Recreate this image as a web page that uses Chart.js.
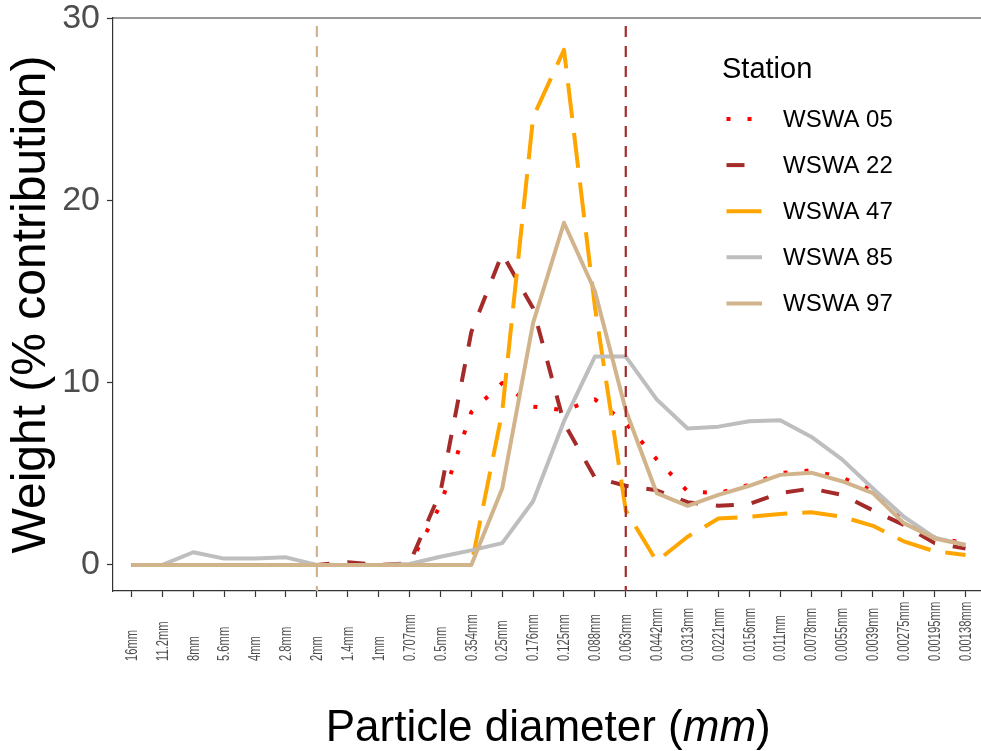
<!DOCTYPE html>
<html>
<head>
<meta charset="utf-8">
<script src="https://cdn.jsdelivr.net/npm/chart.js@4.4.0/dist/chart.umd.min.js"></script>
<style>
  body { margin: 0; background: #ffffff; }
  canvas { display: block; }
</style>
</head>
<body>
<canvas id="canvasGrafico" width="981" height="751"></canvas>
<script>
// categorias del eje x (diametro de particula)
const diametros = ['16mm', '11.2mm', '8mm', '5.6mm', '4mm', '2.8mm', '2mm', '1.4mm', '1mm',
    '0.707mm', '0.5mm', '0.354mm', '0.25mm', '0.176mm', '0.125mm', '0.088mm', '0.063mm',
    '0.0442mm', '0.0313mm', '0.0221mm', '0.0156mm', '0.011mm', '0.0078mm', '0.0055mm',
    '0.0039mm', '0.00275mm', '0.00195mm', '0.00138mm'];

const estaciones = ['WSWA 05', 'WSWA 22', 'WSWA 47', 'WSWA 85', 'WSWA 97'];

const wswa05 = [0, 0, 0, 0, 0, 0, 0, 0, 0, 0, 3.3, 8.4, 10.0, 8.7, 8.5, 9.1, 7.8,
    5.8, 4.05, 3.95, 4.4, 5.05, 5.2, 4.8, 4.1, 2.5, 1.5, 1.2];
const wswa22 = [0, 0, 0, 0, 0, 0, 0, 0.15, 0, 0.1, 4.0, 12.8, 17.1, 14.1, 7.8, 4.8, 4.35,
    4.1, 3.45, 3.25, 3.35, 3.95, 4.2, 3.85, 3.0, 2.2, 1.2, 0.9];
const wswa47 = [0, 0, 0, 0, 0, 0, 0, 0, 0, 0, 0, 0, 8.4, 24.6, 28.3, 14.2, 3.0,
    0.2, 1.55, 2.55, 2.65, 2.8, 2.9, 2.65, 2.15, 1.3, 0.75, 0.55];
const wswa85 = [0, 0, 0.7, 0.35, 0.35, 0.42, 0, 0, 0, 0.05, 0.45, 0.8, 1.2, 3.5, 7.9, 11.45, 11.45,
    9.1, 7.5, 7.6, 7.9, 7.95, 7.05, 5.8, 4.2, 2.65, 1.5, 1.1];
const wswa97 = [0, 0, 0, 0, 0, 0, 0, 0, 0, 0, 0, 0, 4.2, 13.3, 18.8, 15.05, 8.5,
    3.95, 3.25, 3.85, 4.35, 4.95, 5.07, 4.6, 3.95, 2.3, 1.45, 1.1];

const series = [wswa05, wswa22, wswa47, wswa85, wswa97];
const marcasY = [0, 10, 20, 30];

// lineas verticales de referencia
const lineasReferencia = ['2mm', '0.063mm'];
const coloresReferencia = ['#D2B48C', '#A52A2A'];

const colores = ['#FF0000', '#A52A2A', '#FFA500', '#BEBEBE', '#D2B48C'];
const guiones = [[4, 17], [18, 18], [35, 15], [], []];

const fuente = '"Liberation Sans", Arial, sans-serif';

const extras = {
    id: 'extras',
    afterDatasetsDraw(chart) {
        const ctx = chart.ctx;
        const area = chart.chartArea;
        const xs = chart.scales.x;

        // lineas de referencia
        ctx.save();
        ctx.lineWidth = 2.2;
        ctx.setLineDash([11, 9]);
        lineasReferencia.forEach((etiqueta, k) => {
            const px = xs.getPixelForValue(diametros.indexOf(etiqueta));
            ctx.strokeStyle = coloresReferencia[k];
            ctx.beginPath();
            ctx.moveTo(px, area.top + 8);
            ctx.lineTo(px, area.bottom);
            ctx.stroke();
        });
        ctx.restore();

        // borde superior del panel
        ctx.save();
        ctx.strokeStyle = '#333333';
        ctx.lineWidth = 1.2;
        ctx.beginPath();
        ctx.moveTo(area.left, area.top);
        ctx.lineTo(chart.width, area.top);
        ctx.stroke();
        ctx.restore();

        // leyenda
        ctx.save();
        ctx.fillStyle = '#000000';
        ctx.textBaseline = 'middle';
        ctx.textAlign = 'left';
        ctx.font = '29px ' + fuente;
        ctx.fillText('Station', 722, 70);
        ctx.font = '24px ' + fuente;
        chart.data.datasets.forEach((ds, i) => {
            const y = 119 + i * 46.1;
            ctx.strokeStyle = ds.borderColor;
            ctx.lineWidth = 4;
            ctx.lineCap = 'butt';
            ctx.setLineDash(ds.borderDash);
            ctx.beginPath();
            ctx.moveTo(726.5, y);
            ctx.lineTo(762, y);
            ctx.stroke();
            ctx.setLineDash([]);
            ctx.fillText(ds.label, 783, y + 1);
        });
        ctx.restore();
    },
    afterDraw(chart) {
        const ctx = chart.ctx;
        const area = chart.chartArea;
        const xs = chart.scales.x;

        // etiquetas del eje x, giradas, algo estrechas y alineadas abajo
        ctx.save();
        ctx.fillStyle = '#4D4D4D';
        ctx.font = '17px ' + fuente;
        diametros.forEach((d, i) => {
            const px = xs.getPixelForValue(i);
            ctx.save();
            ctx.translate(px + 0.5, 661);
            ctx.rotate(-Math.PI / 2);
            ctx.scale(0.66, 1);
            ctx.textAlign = 'left';
            ctx.textBaseline = 'middle';
            ctx.fillText(d, 0, 0);
            ctx.restore();
        });
        ctx.restore();

        // titulo del eje x con "mm" en cursiva
        ctx.save();
        ctx.fillStyle = '#000000';
        ctx.textBaseline = 'alphabetic';
        const normal = '44px ' + fuente;
        const cursiva = 'italic 44px ' + fuente;
        const partes = [['Particle diameter (', normal], ['mm', cursiva], [')', normal]];
        let total = 0;
        partes.forEach(p => { ctx.font = p[1]; total += ctx.measureText(p[0]).width; });
        let x = (area.left + area.right + 2.5) / 2 - total / 2;
        partes.forEach(p => {
            ctx.font = p[1];
            ctx.fillText(p[0], x, 741);
            x += ctx.measureText(p[0]).width;
        });
        ctx.restore();
    }
};

function inicializarGrafico() {
    const ctx = document.getElementById('canvasGrafico').getContext('2d');

    new Chart(ctx, {
        type: 'line',
        data: {
            datasets: estaciones.map((nombre, i) => ({
                label: nombre,
                data: series[i].map((v, k) => ({ x: k, y: v })),
                borderColor: colores[i],
                borderDash: guiones[i],
                borderWidth: 4,
                borderCapStyle: 'butt',
                borderJoinStyle: 'round',
                pointRadius: 0,
                fill: false,
                tension: 0,
                order: estaciones.length - 1 - i
            }))
        },
        options: {
            responsive: false,
            devicePixelRatio: 1,
            animation: false,
            layout: { padding: { top: 18, left: 0, right: 0, bottom: 0 } },
            plugins: {
                legend: { display: false },
                tooltip: { enabled: false }
            },
            scales: {
                x: {
                    type: 'linear',
                    bounds: 'data',
                    min: -0.6,
                    max: 27.5,
                    afterBuildTicks: (scale) => {
                        scale.ticks = diametros.map((_, i) => ({ value: i }));
                    },
                    afterFit: (scale) => {
                        scale.height = 160;
                        scale.paddingLeft = 0;
                        scale.paddingRight = 0;
                    },
                    ticks: { display: false },
                    grid: {
                        drawOnChartArea: false,
                        drawTicks: true,
                        tickLength: 6,
                        tickColor: '#333333',
                        tickWidth: 1.2
                    },
                    border: { display: true, color: '#333333', width: 1.2 }
                },
                y: {
                    type: 'linear',
                    bounds: 'data',
                    min: -1.43,
                    max: 30.05,
                    afterBuildTicks: (scale) => {
                        scale.ticks = marcasY.map(v => ({ value: v }));
                    },
                    afterFit: (scale) => {
                        scale.width = 113;
                        scale.paddingTop = 0;
                        scale.paddingBottom = 0;
                    },
                    ticks: {
                        color: '#4D4D4D',
                        padding: 7,
                        font: { family: fuente, size: 34, lineHeight: 1 }
                    },
                    grid: {
                        drawOnChartArea: false,
                        drawTicks: true,
                        tickLength: 6,
                        tickColor: '#333333',
                        tickWidth: 1.2
                    },
                    border: { display: true, color: '#333333', width: 1.2 },
                    title: {
                        display: true,
                        text: 'Weight (% contribution)',
                        color: '#000000',
                        padding: { top: 8, bottom: 0 },
                        font: { family: fuente, size: 48, lineHeight: 1 }
                    }
                }
            }
        },
        plugins: [extras]
    });
}

inicializarGrafico();
</script>
</body>
</html>
